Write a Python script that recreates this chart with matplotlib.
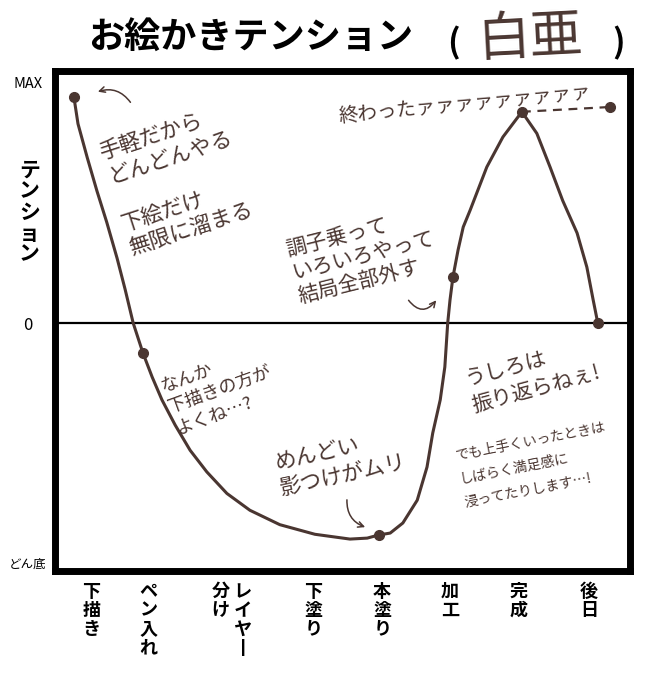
import matplotlib
matplotlib.use('Agg')
from matplotlib import pyplot as plt

plt.rcParams['font.family'] = ['Noto Sans CJK JP', 'DejaVu Sans']

# 工程 (横軸) とラベルの位置 (0-100 の進み具合)
stages = ['下描き', 'ペン入れ', 'レイヤー分け', '下塗り', '本塗り', '加工', '完成', '後日']
stage_x = [6.3, 16.3, 30.8, 44.9, 56.9, 68.7, 80.7, 92.9]

# 点の打ってある工程のテンション
dot_x = [3.3, 15.3, 56.3, 69.2, 81.2, 94.4]
dot_y = [0.94, -0.125, -0.883, 0.19, 0.88, 0.0]

# 手描きの曲線をなぞった点
curve_x = [3.3, 4.0, 5.6, 7.3, 9.0, 10.8, 12.2, 13.6, 15.3,
           16.9, 18.6, 20.9, 23.5, 26.4, 29.9, 33.9, 39.1, 45.2, 51.3, 54.3, 56.3,
           58.3, 60.5, 63.0, 64.7, 65.7, 67.0, 67.8, 68.3, 68.7, 69.2,
           70.1, 71.0, 72.2, 75.1, 77.9, 81.2,
           83.8, 86.1, 88.3, 90.8, 92.5, 93.6, 94.4]
curve_y = [0.94, 0.83, 0.69, 0.55, 0.42, 0.27, 0.14, 0.0, -0.125,
           -0.225, -0.32, -0.425, -0.53, -0.62, -0.71, -0.78, -0.84, -0.88, -0.90, -0.896, -0.883,
           -0.875, -0.833, -0.738, -0.60, -0.458, -0.32, -0.183, 0.0, 0.096, 0.19,
           0.304, 0.40, 0.47, 0.65, 0.775, 0.88,
           0.79, 0.65, 0.51, 0.375, 0.233, 0.096, 0.0]

# 完成の余韻 (点線)
after_x = [81.2, 96.5]
after_y = [0.88, 0.90]

# 縦軸
y_ticks = [1.0, 0.0, -1.0]
y_labels = ['MAX', '0', 'どん底']

BROWN = '#4a3631'


def tate(name):
    # 縦書きにする。長い名前は二列 (右の列から読む)
    name = name.replace('ー', '丨')
    if len(name) > 4:
        right, left = name[:4], name[4:]
        rows = []
        for i in range(len(right)):
            l = left[i] if i < len(left) else '　'
            rows.append(l + ' ' + right[i])
        return '\n'.join(rows)
    return '\n'.join(name)


def main():
    fig = plt.figure(figsize=(6.5, 6.8), dpi=100)
    ax = fig.add_axes([0.0846, 0.161, 0.8846, 0.7353])
    ax.set_xlim(0, 100)
    ax.set_ylim(-1.031, 1.052)

    for spine in ax.spines.values():
        spine.set_linewidth(5)
        spine.set_color('black')

    ax.axhline(0, color='black', lw=1.6, zorder=1)

    # 曲線と点
    ax.plot(curve_x, curve_y, color=BROWN, lw=2.2, solid_capstyle='round',
            solid_joinstyle='round', zorder=3)
    ax.plot(after_x, after_y, color=BROWN, lw=1.6, ls=(0, (4, 3)), zorder=3)
    ax.plot(dot_x + after_x[-1:], dot_y + after_y[-1:], 'o', color=BROWN, ms=7, zorder=4)

    # 軸ラベル
    ax.set_xticks(stage_x, [tate(s) for s in stages])
    ax.tick_params(axis='x', length=0, pad=8)
    for t in ax.get_xticklabels():
        t.set_fontsize(13)
        t.set_fontweight('bold')
        t.set_linespacing(1.0)
        t.set_verticalalignment('top')

    ax.set_yticks(y_ticks, y_labels)
    ax.tick_params(axis='y', length=0, pad=19.5)
    for t, fs in zip(ax.get_yticklabels(), [10.5, 12, 9]):
        t.set_fontsize(fs)
        t.set_horizontalalignment('center')

    fig.text(0.045, 0.688, '\n'.join('テンション'), fontsize=15, fontweight='bold',
             ha='center', va='center', linespacing=1.0)

    # タイトル
    fig.text(0.135, 0.943, 'お絵かきテンション', fontsize=26, fontweight='bold',
             ha='left', va='center')
    fig.text(0.698, 0.937, '(', fontsize=24, fontweight='bold', ha='center', va='center')
    fig.text(0.951, 0.937, ')', fontsize=24, fontweight='bold', ha='center', va='center')
    fig.text(0.815, 0.944, '白亜', fontsize=38, color=BROWN, ha='center', va='center',
             rotation=3)

    # 書き込み (x, y, 文, 大きさ, 傾き, 行間)
    notes = [
        (19.3, 0.74, '手軽だから\nどんどんやる', 15.5, 18, 1.2),
        (23.0, 0.44, '下絵だけ\n無限に溜まる', 15.5, 18, 1.2),
        (53.6, 0.28, '調子乗って\nいろいろやって\n結局全部外す', 15, 14, 1.15),
        (71.3, 0.91, '終わったァァァァァァァァァ', 14, 5.5, 1.2),
        (28.7, -0.28, 'なんか\n下描きの方が\nよくね…?', 13, 20, 1.3),
        (49.6, -0.58, 'めんどい\n影つけがムリ', 15.5, 12, 1.3),
        (83.1, -0.22, 'うしろは\n振り返らねぇ!', 15, 15, 1.3),
        (83.5, -0.59, 'でも上手くいったときは\nしばらく満足感に\n浸ってたりします…!', 10, 11, 1.9),
    ]
    for x, y, s, fs, rot, ls in notes:
        ax.text(x, y, s, fontsize=fs, rotation=rot, color=BROWN, ha='center',
                va='center', multialignment='left', linespacing=ls, zorder=2)

    # 矢印
    arrow = dict(arrowstyle='->', color=BROWN, lw=1.1)
    ax.annotate('', xy=(7.0, 0.96), xytext=(13.4, 0.91),
                arrowprops=dict(arrow, connectionstyle='arc3,rad=0.4'))
    ax.annotate('', xy=(66.6, 0.104), xytext=(61.2, 0.104),
                arrowprops=dict(arrow, connectionstyle='arc3,rad=0.7'))
    ax.annotate('', xy=(54.4, -0.854), xytext=(50.8, -0.725),
                arrowprops=dict(arrow, connectionstyle='arc3,rad=0.4'))

    fig.savefig('out.png', dpi=100, facecolor='white')


if __name__ == '__main__':
    main()
